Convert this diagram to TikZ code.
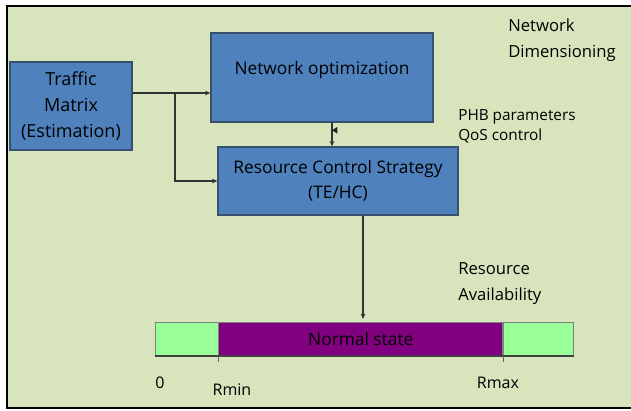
\documentclass[tikz,border=0pt]{standalone}
\usepackage{fontspec}
\setmainfont{Open Sans}
\usetikzlibrary{arrows.meta,positioning}

\definecolor{paper}{RGB}{216,228,188}
\definecolor{boxblue}{RGB}{79,129,189}
\definecolor{boxedge}{RGB}{56,80,110}
\definecolor{lowgreen}{RGB}{153,255,153}
\definecolor{normpurple}{RGB}{128,0,128}

\begin{document}
\begin{tikzpicture}[
    x=0.75pt, y=-0.75pt,
    font=\fontsize{13}{19}\selectfont,
    >={Stealth[length=4pt,width=3.5pt]},
    block/.style={draw=boxedge, fill=boxblue, line width=1pt, align=center,
                  inner sep=0pt},
    band/.style={draw=gray, line width=0.6pt, inner sep=0pt,
                 minimum height=25.5pt},
    note/.style={font=\fontsize{12.5}{19.5}\selectfont, align=left, anchor=north west,
                 inner sep=0pt},
    tick/.style={font=\fontsize{12}{14}\selectfont, inner sep=0pt},
    link/.style={->, draw=black!80, line width=0.9pt},
]
\useasboundingbox (0,0) rectangle (631,410);
% background sheet
\fill[white] (0,0) rectangle (631,410);
\draw[fill=paper, line width=2pt] (7,6) rectangle (640,408);

% --- the three blocks ---
\node[block, minimum width=91.5pt, minimum height=66pt, font=\fontsize{13.5}{19.5}\selectfont]
     (traffic) at (71,106) {Traffic\\Matrix\\(Estimation)};
\node[block, minimum width=166.5pt, minimum height=66.75pt, text depth=14pt] (netopt) at (322,77.5)
     {Network optimization};
\node[block, minimum width=180pt, minimum height=51pt] (rcs) at (338,181)
     {Resource Control Strategy\\(TE/HC)};

% --- resource availability bar ---
\node[band, fill=lowgreen, minimum width=47.25pt] (lowL) at (186.5,339) {};
\node[band, fill=normpurple, minimum width=213pt, right=0pt of lowL] (normal) {Normal state};
\node[band, fill=lowgreen, minimum width=52.5pt, right=0pt of normal] (lowR) {};
\draw[line width=1.5pt, black!75] (lowL.south west) -- (lowR.south east);
\draw[black!60, line width=0.6pt] (normal.south west) -- ++(0,6);
\draw[black!60, line width=0.6pt] (normal.south east) -- ++(0,6);

\node[tick] (zero) at (160,383) {0};
\node[tick] (rmin) at (232,390) {Rmin};
\node[tick] (rmax) at (498,383) {Rmax};

% --- side notes ---
\node[note] (netdim) at (508,19) {Network\\Dimensioning};
\node[note, font=\fontsize{11.5}{15.5}\selectfont] (phb) at (458,109) {PHB parameters\\QoS control};
\node[note] (resav) at (458,262) {Resource\\Availability};

% --- connectors ---
\coordinate (split) at (175,93);
\draw[link] ([yshift=9.75pt]traffic.east) -- (split) -- (split -| netopt.west);
\draw[link] (split) |- (rcs.west);
\draw[link] ([xshift=7.5pt]netopt.south) -- coordinate[pos=0.32] (midtip)
     ([xshift=7.5pt]netopt.south |- rcs.north);
% small stray tip on the middle link
\fill[black!85] (midtip) -- ([xshift=4pt,yshift=2.5pt]midtip) -- ([xshift=4pt,yshift=-2.5pt]midtip) -- cycle;
\draw[link, shorten >=2pt] ([xshift=18.75pt]rcs.south) -- ([xshift=18.75pt]rcs.south |- normal.north);

\end{tikzpicture}
\end{document}
